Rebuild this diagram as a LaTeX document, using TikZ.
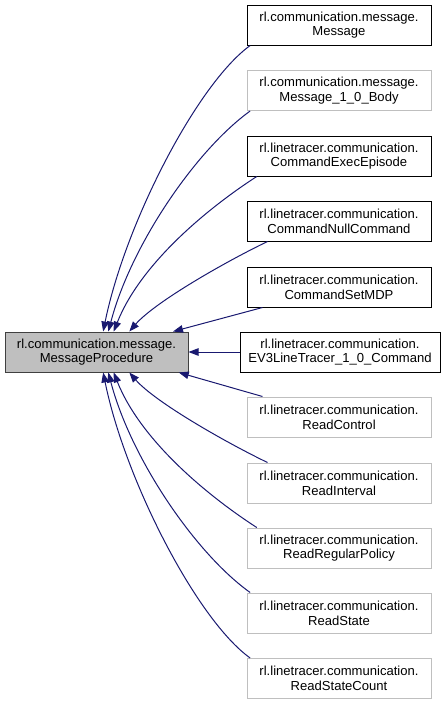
\documentclass[tikz,border=0pt]{standalone}
\usepackage{fontspec}
\setmainfont{Liberation Sans}
\usepackage{xcolor}
\usepackage{tikz}
\usetikzlibrary{arrows.meta}
\definecolor{dxnavy}{HTML}{191970}
\definecolor{dxgrey}{HTML}{BFBFBF}
\tikzset{
  dxbox/.style={rectangle, inner sep=0pt, align=center, minimum height=30pt,
    minimum width=138pt, line width=0.75pt,
    font=\fontsize{9.8}{11}\selectfont},
  dxbase/.style={dxbox, fill=dxgrey, draw=black!75, minimum width=137.25pt},
  dxdoc/.style={dxbox, fill=white, draw=black},
  dxundoc/.style={dxbox, fill=white, draw=dxgrey},
  dxedge/.style={line width=0.75pt, draw=dxnavy,
    {Triangle[length=7.5pt, width=5.6pt, fill=dxnavy]}-},
}

\begin{document}
\begin{tikzpicture}[x=0.75pt,y=-0.75pt]
\useasboundingbox (0,0) rectangle (445,704);
\node[dxbase] (proc) at (96.5,352) {rl.communication.message.\\MessageProcedure};
\node[dxdoc] (msg) at (339,25) {rl.communication.message.\\Message};
\node[dxundoc] (body) at (339,90.5) {rl.communication.message.\\Message\_1\_0\_Body};
\node[dxdoc] (exec) at (339,156) {rl.linetracer.communication.\\CommandExecEpisode};
\node[dxdoc] (nullcmd) at (339,221) {rl.linetracer.communication.\\CommandNullCommand};
\node[dxdoc] (setmdp) at (339,287) {rl.linetracer.communication.\\CommandSetMDP};
\node[dxdoc, minimum width=150pt] (ev3) at (340,352) {rl.linetracer.communication.\\EV3LineTracer\_1\_0\_Command};
\node[dxundoc] (rctrl) at (339,417) {rl.linetracer.communication.\\ReadControl};
\node[dxundoc] (rintv) at (339,483) {rl.linetracer.communication.\\ReadInterval};
\node[dxundoc] (rpol) at (339,548) {rl.linetracer.communication.\\ReadRegularPolicy};
\node[dxundoc] (rstate) at (339,613) {rl.linetracer.communication.\\ReadState};
\node[dxundoc] (rcount) at (339,678.5) {rl.linetracer.communication.\\ReadStateCount};
% inheritance edges, arrow at the base class
\draw[dxedge] (proc.72) .. controls (125,224) and (197,84) .. (msg.193);
\draw[dxedge] (proc.60) .. controls (131,245) and (196,150) .. (body.193);
\draw[dxedge] (proc.50) .. controls (140,265) and (205,210) .. (exec.194);
\draw[dxedge] (proc.32) .. controls (155,302) and (225,262) .. (nullcmd.196);
\draw[dxedge] (proc.15) -- (setmdp.195);
\draw[dxedge] (proc.east) -- (ev3.west);
\draw[dxedge] (proc.-14) -- (rctrl.165);
\draw[dxedge] (proc.-32) .. controls (155,402) and (225,442) .. (rintv.164);
\draw[dxedge] (proc.-50) .. controls (140,439) and (205,494) .. (rpol.166);
\draw[dxedge] (proc.-60) .. controls (131,459) and (196,554) .. (rstate.167);
\draw[dxedge] (proc.-72) .. controls (125,480) and (197,620) .. (rcount.167);
\end{tikzpicture}
\end{document}
